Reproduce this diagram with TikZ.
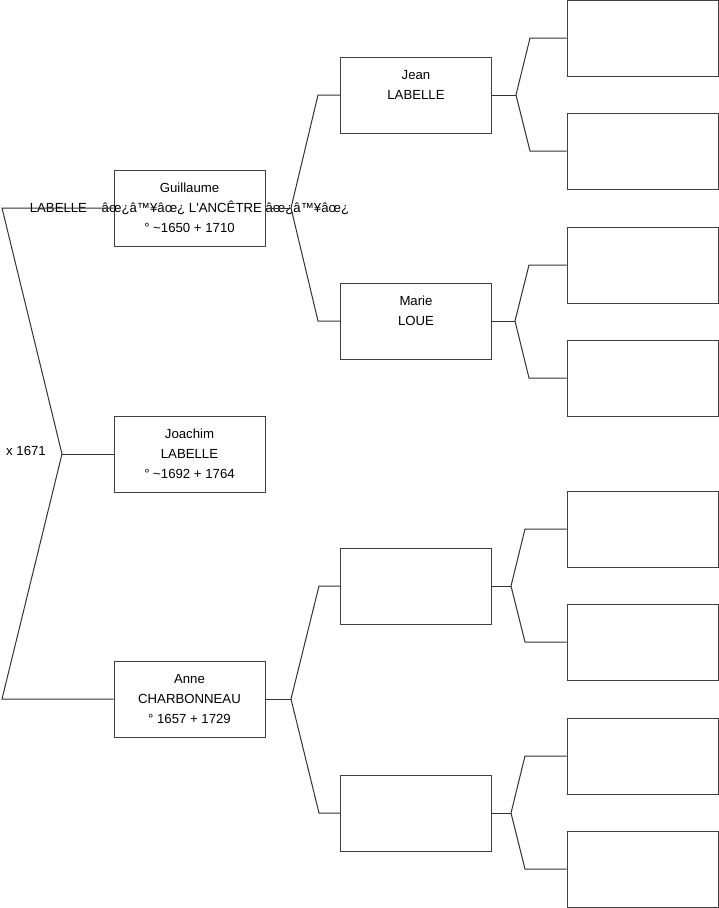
\documentclass[tikz,border=0pt]{standalone}
\usepackage{fontspec}
\setmainfont{Liberation Sans}
\usepackage{tikz}
\usetikzlibrary{positioning,calc}

\begin{document}
\begin{tikzpicture}[
    x=1pt, y=-1pt,
    person/.style={draw=black!75, line width=1pt, minimum width=151pt, minimum height=76pt, inner sep=0pt, align=center, font=\fontsize{13.2}{20}\selectfont},
    lien/.style={draw=black!80, line width=1pt}
]
\useasboundingbox (0,0) rectangle (719,908);

% generation 1
\node[person] (guillaume) at (189.5,208) {Guillaume\\\makebox[0pt]{LABELLE~~~~âœ¿â™¥âœ¿ L\textquotesingle ANCÊTRE âœ¿â™¥âœ¿}\\° \textasciitilde 1650 + 1710};
\node[person] (joachim) at (189.5,454) {Joachim\\LABELLE\\° \textasciitilde 1692 + 1764};
\node[person] (anne) at (189.5,699) {Anne\\CHARBONNEAU\\° 1657 + 1729};
\node[font=\fontsize{13.2}{20}\selectfont] (mar) at (26,451) {x 1671};

% generation 2
\node[person] (jean) at (416,95) {Jean\\LABELLE\\\phantom{0}};
\node[person] (marie) at (416,321) {Marie\\LOUE\\\phantom{0}};
\node[person] (apere) at (416,586) {};
\node[person] (amere) at (416,813) {};

% generation 3
\node[person] (jpere) at (642.5,38) {};
\node[person] (jmere) at (642.5,151) {};
\node[person] (mpere) at (642.5,265) {};
\node[person] (mmere) at (642.5,378) {};
\node[person] (ppere) at (642.5,529) {};
\node[person] (pmere) at (642.5,642) {};
\node[person] (qpere) at (642.5,756) {};
\node[person] (qmere) at (642.5,869) {};

% points de jonction
\coordinate (hg) at (2,208);
\coordinate (mariage) at (62,454);
\coordinate (ha) at (2,699);
\coordinate (gb) at (291,208);
\coordinate (g1) at (318,95);
\coordinate (g2) at (318,321);
\coordinate (ab) at (291,699);
\coordinate (a1) at (319,586);
\coordinate (a2) at (319,813);
\coordinate (jb) at (516,95);
\coordinate (j1) at (530,38);
\coordinate (j2) at (530,151);
\coordinate (mb) at (515,321);
\coordinate (m1) at (529,265);
\coordinate (m2) at (529,378);
\coordinate (pb) at (511,586);
\coordinate (p1) at (525,529);
\coordinate (p2) at (525,642);
\coordinate (qb) at (511,813);
\coordinate (q1) at (525,756);
\coordinate (q2) at (525,869);

\draw[lien] (guillaume.west) -- (hg) -- (mariage) -- (ha) -- (anne.west);
\draw[lien] (mariage) -- (joachim.west);

\draw[lien] (guillaume.east) -- (gb);
\draw[lien] (gb) -- (g1) -- (jean.west);
\draw[lien] (gb) -- (g2) -- (marie.west);
\draw[lien] (anne.east) -- (ab);
\draw[lien] (ab) -- (a1) -- (apere.west);
\draw[lien] (ab) -- (a2) -- (amere.west);

\draw[lien] (jean.east) -- (jb);
\draw[lien] (jb) -- (j1) -- (jpere.west);
\draw[lien] (jb) -- (j2) -- (jmere.west);
\draw[lien] (marie.east) -- (mb);
\draw[lien] (mb) -- (m1) -- (mpere.west);
\draw[lien] (mb) -- (m2) -- (mmere.west);
\draw[lien] (apere.east) -- (pb);
\draw[lien] (pb) -- (p1) -- (ppere.west);
\draw[lien] (pb) -- (p2) -- (pmere.west);
\draw[lien] (amere.east) -- (qb);
\draw[lien] (qb) -- (q1) -- (qpere.west);
\draw[lien] (qb) -- (q2) -- (qmere.west);
\end{tikzpicture}
\end{document}
